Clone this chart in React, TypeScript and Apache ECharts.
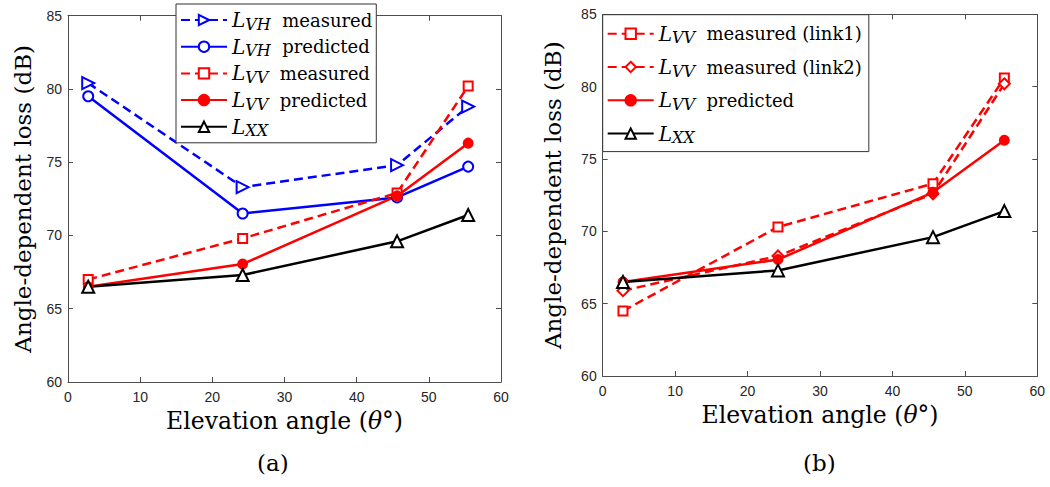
import React, { useEffect, useRef } from "react";
import * as echarts from "echarts";

// ---- data ----
const angles = [2.8, 24.2, 45.6, 55.45]; // elevation angle (deg)

// panel (a)
const lvhMeasured = [80.4, 73.3, 74.8, 78.8];
const lvhPredicted = [79.5, 71.5, 72.6, 74.7];
const lvvMeasured = [67.0, 69.8, 72.9, 80.2];
const lvvPredicted = [66.5, 68.05, 72.7, 76.3];
const lxx = [66.5, 67.3, 69.6, 71.4];

// panel (b)
const lvvLink1 = [64.5, 70.3, 73.3, 80.6];
const lvvLink2 = [65.9, 68.3, 72.6, 80.2];

const xTicks = [0, 10, 20, 30, 40, 50, 60];
const yTicks = [60, 65, 70, 75, 80, 85];

const zip = (ys: number[]) => angles.map((x, i) => [x, ys[i]]);

const SERIF = "DejaVu Serif";
const SANS = "Liberation Sans";
const AX = "#4d4d4d";

// legend labels: name -> [subscript, text]
const legendText: Record<string, [string, string]> = {
  "a: LVH measured": ["VH", "measured"],
  "a: LVH predicted": ["VH", "predicted"],
  "a: LVV measured": ["VV", "measured"],
  "a: LVV predicted": ["VV", "predicted"],
  "a: LXX": ["XX", ""],
  "b: LVV measured (link1)": ["VV", "measured (link1)"],
  "b: LVV measured (link2)": ["VV", "measured (link2)"],
  "b: LVV predicted": ["VV", "predicted"],
  "b: LXX": ["XX", ""],
};

const mkSeries = (
  name: string,
  ys: number[],
  color: string,
  dashed: boolean,
  symbol: string,
  symbolSize: number,
  idx: number,
  extra: any = {}
) => ({
  type: "line",
  name,
  data: zip(ys),
  xAxisIndex: idx * 2,
  yAxisIndex: idx * 2,
  symbol,
  symbolSize,
  showSymbol: true,
  lineStyle: { color, width: 2.5, type: dashed ? [9, 5] : "solid" },
  itemStyle: { color, borderColor: color, borderWidth: 2 },
  emphasis: { disabled: true },
  ...extra,
});

const gridsPx = [
  { left: 68, top: 15.7, width: 433, height: 366.3 },
  { left: 602.7, top: 14.4, width: 434.6, height: 361.6 },
];

const axisCommon = {
  axisLine: { show: true, onZero: false, lineStyle: { color: AX, width: 1 } },
  axisTick: { show: true, inside: true, length: 5, lineStyle: { color: AX } },
  splitLine: { show: false },
};

function makeAxes() {
  const xAxis: any[] = [];
  const yAxis: any[] = [];
  gridsPx.forEach((_, g) => {
    xAxis.push({
      type: "value",
      gridIndex: g,
      position: "bottom",
      min: xTicks[0],
      max: xTicks[xTicks.length - 1],
      interval: 10,
      ...axisCommon,
      axisLabel: { show: true, margin: 8, color: "#262626", fontFamily: SANS, fontSize: 14 },
      name: "{t|Elevation angle (}{i|θ}{t|°)}",
      nameLocation: "middle",
      nameGap: 24,
      nameTextStyle: {
        rich: {
          t: { fontFamily: SERIF, fontSize: 23.5, color: "#000" },
          i: { fontFamily: SERIF, fontSize: 23.5, fontStyle: "italic", color: "#000" },
        },
      },
    });
    xAxis.push({
      type: "value",
      gridIndex: g,
      position: "top",
      min: xTicks[0],
      max: xTicks[xTicks.length - 1],
      interval: 10,
      ...axisCommon,
      axisLabel: { show: false },
    });
    yAxis.push({
      type: "value",
      gridIndex: g,
      position: "left",
      min: yTicks[0],
      max: yTicks[yTicks.length - 1],
      interval: 5,
      ...axisCommon,
      axisLabel: { show: true, margin: 6, color: "#262626", fontFamily: SANS, fontSize: 14 },
      name: "Angle-dependent loss (dB)",
      nameLocation: "middle",
      nameGap: g === 0 ? 34 : 38.5,
      nameRotate: 90,
      nameTextStyle: { fontFamily: SERIF, fontSize: 23, color: "#000" },
    });
    yAxis.push({
      type: "value",
      gridIndex: g,
      position: "right",
      min: yTicks[0],
      max: yTicks[yTicks.length - 1],
      interval: 5,
      ...axisCommon,
      axisLabel: { show: false },
    });
  });
  return { xAxis, yAxis };
}

const legendRich = {
  L: { fontFamily: SERIF, fontSize: 20, fontStyle: "italic", color: "#000", lineHeight: 24 },
  s: { fontFamily: SERIF, fontSize: 16, fontStyle: "italic", color: "#000", verticalAlign: "bottom", lineHeight: 17 },
  t: { fontFamily: SERIF, fontSize: 18, color: "#000", lineHeight: 24 },
};

const legendFormatter = (name: string) => {
  const [sub, txt] = legendText[name] || ["", name];
  return `{L|L}{s|${sub}}` + (txt ? `{t|  ${txt}}` : "");
};

export default function App() {
  const ref = useRef<HTMLDivElement>(null);

  useEffect(() => {
    document.body.style.margin = "0";
    if (!ref.current) return;
    const chart = echarts.init(ref.current, undefined, { renderer: "svg" });
    const { xAxis, yAxis } = makeAxes();

    const series = [
      mkSeries("a: LVH measured", lvhMeasured, "#0000ff", true, "emptyTriangle", 12, 0, { symbolRotate: -90 }),
      mkSeries("a: LVH predicted", lvhPredicted, "#0000ff", false, "emptyCircle", 10, 0),
      mkSeries("a: LVV measured", lvvMeasured, "#ff0000", true, "emptyRect", 9, 0),
      mkSeries("a: LVV predicted", lvvPredicted, "#ff0000", false, "circle", 9, 0),
      mkSeries("a: LXX", lxx, "#000000", false, "emptyTriangle", 12, 0),
      mkSeries("b: LVV measured (link1)", lvvLink1, "#ff0000", true, "emptyRect", 9, 1),
      mkSeries("b: LVV measured (link2)", lvvLink2, "#ff0000", true, "emptyDiamond", 11, 1),
      mkSeries("b: LVV predicted", lvvPredicted, "#ff0000", false, "circle", 9, 1),
      mkSeries("b: LXX", lxx, "#000000", false, "emptyTriangle", 12, 1),
    ];

    chart.setOption({
      animation: false,
      backgroundColor: "#ffffff",
      grid: gridsPx.map((g) => ({ ...g, containLabel: false })),
      xAxis,
      yAxis,
      legend: [
        {
          data: ["a: LVH measured", "a: LVH predicted", "a: LVV measured", "a: LVV predicted", "a: LXX"],
          orient: "vertical",
          left: 176,
          top: 4,
          itemWidth: 46,
          itemHeight: 13,
          itemGap: 4.7,
          padding: [6, 4, 4, 4],
          backgroundColor: "#ffffff",
          borderColor: "#333",
          borderWidth: 1,
          selectedMode: false,
          formatter: legendFormatter,
          textStyle: { fontFamily: SERIF, fontSize: 18, color: "#000", rich: legendRich },
          z: 10,
        },
        {
          data: ["b: LVV measured (link1)", "b: LVV measured (link2)", "b: LVV predicted", "b: LXX"],
          orient: "vertical",
          left: 602.7,
          top: 14.7,
          itemWidth: 46,
          itemHeight: 13,
          itemGap: 11.3,
          padding: [9, 7, 6, 4],
          backgroundColor: "#ffffff",
          borderColor: "#333",
          borderWidth: 1,
          selectedMode: false,
          formatter: legendFormatter,
          textStyle: { fontFamily: SERIF, fontSize: 18, color: "#000", rich: legendRich },
          z: 10,
        },
      ],
      graphic: [
        { type: "text", left: 257, top: 451, style: { text: "(a)", font: `23px "${SERIF}"`, fill: "#000" } },
        { type: "text", left: 803, top: 451, style: { text: "(b)", font: `23px "${SERIF}"`, fill: "#000" } },
      ],
      series,
    });

    return () => chart.dispose();
  }, []);

  return <div ref={ref} style={{ width: 1050, height: 487 }} />;
}
